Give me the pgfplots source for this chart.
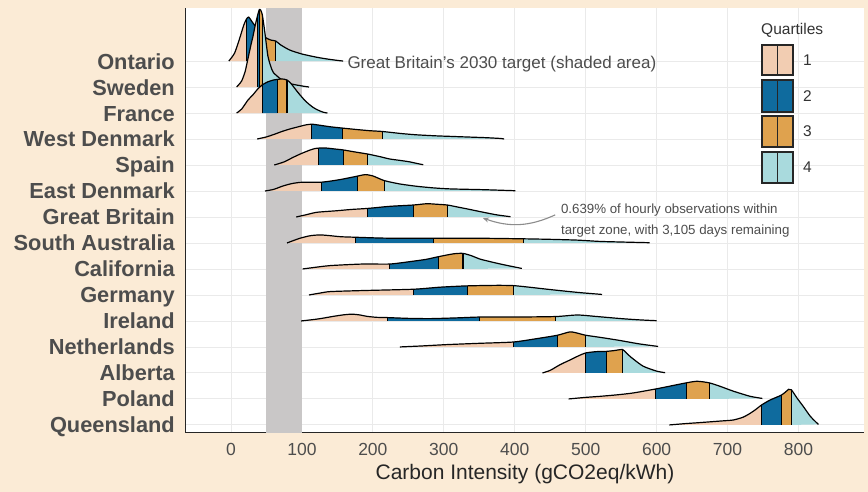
\documentclass[border=0pt]{standalone}
\usepackage{pgfplots}
\pgfplotsset{compat=1.18}
\usetikzlibrary{arrows.meta}
\usepackage{fontspec}
\setmainfont{Liberation Sans}

\definecolor{bgbeige}{HTML}{FBEBD6}
\definecolor{qone}{HTML}{F2CDB2}
\definecolor{qtwo}{HTML}{0F6B9E}
\definecolor{qthree}{HTML}{DFA24E}
\definecolor{qfour}{HTML}{A9DADD}
\definecolor{shade}{HTML}{C9C7C7}
\definecolor{gridgrey}{HTML}{EAEAEA}
\definecolor{txtgrey}{HTML}{4D4D4D}
\definecolor{arrowgrey}{HTML}{8C8C8C}

% density curves, y = baseline + height
\pgfplotstableread{
x y
-3 14
5 14.3
12 14.85
18 15.38
22 15.62
25 15.69
29 15.54
34 15.35
42 15.08
50 14.88
57 14.8
63 14.77
70 14.62
83 14.42
100 14.27
120 14.15
135 14.08
151 14.02
158 14
}\tOntario
\pgfplotstableread{
x y
8 13
15 13.23
20 13.6
24 14.1
28 14.6
31 14.95
34 15.35
37 15.7
40 15.98
42 15.95
44 15.8
46 15.45
48 15.05
52 14.2
56 13.8
60 13.55
72 13.27
85 13.12
100 13.04
110 13
}\tSweden
\pgfplotstableread{
x y
8 12
15 12.15
24 12.5
31 12.7
37 12.9
44 13.08
52 13.2
60 13.27
65 13.29
72 13.31
79 13.27
85 13.12
95 12.77
105 12.46
115 12.23
122 12.12
130 12.03
136 12
}\tFrance
\pgfplotstableread{
x y
37 11
50 11.08
60 11.17
73 11.3
85 11.4
95 11.47
105 11.54
114 11.57
125 11.53
140 11.47
157 11.42
175 11.37
195 11.32
213 11.29
240 11.21
262 11.16
290 11.12
310 11.1
340 11.07
360 11.05
380 11.02
385 11
}\tWDenmark
\pgfplotstableread{
x y
61 10
75 10.12
88 10.3
100 10.45
110 10.56
118 10.63
124 10.65
135 10.65
145 10.62
158 10.58
175 10.5
193 10.42
210 10.32
224 10.23
240 10.17
252 10.12
262 10.06
271 10.01
}\tSpain
\pgfplotstableread{
x y
48 9
60 9.06
73 9.19
85 9.28
97 9.33
110 9.34
128 9.34
145 9.4
158 9.46
178 9.57
189 9.63
200 9.58
216 9.4
238 9.27
262 9.18
285 9.12
309 9.08
356 9.05
401 9.01
}\tEDenmark
\pgfplotstableread{
x y
92 8
105 8.08
121 8.18
149 8.24
170 8.29
193 8.33
224 8.41
257 8.46
276 8.51
290 8.49
305 8.46
320 8.38
333 8.31
356 8.18
375 8.08
394 8.01
}\tGB
\pgfplotstableread{
x y
79 7
97 7.18
112 7.28
126 7.31
140 7.28
155 7.24
176 7.22
210 7.19
238 7.18
285 7.18
356 7.18
412 7.16
450 7.14
488 7.11
520 7.06
560 7.03
590 7.01
}\tSA
\pgfplotstableread{
x y
101 6
115 6.05
140 6.13
186 6.19
224 6.19
257 6.3
275 6.37
292 6.47
313 6.58
327 6.6
340 6.5
351 6.38
375 6.22
392 6.12
410 6.02
}\tCalifornia
\pgfplotstableread{
x y
110 5
125 5.07
140 5.13
186 5.17
257 5.22
295 5.3
333 5.35
375 5.37
398 5.36
420 5.3
446 5.22
470 5.15
492 5.09
523 5.02
}\tGermany
\pgfplotstableread{
x y
99 4
115 4.05
126 4.09
145 4.18
160 4.24
171 4.26
182 4.23
191 4.18
205 4.14
220 4.13
250 4.1
281 4.09
320 4.12
350 4.15
398 4.15
458 4.17
488 4.23
516 4.17
550 4.09
577 4.04
600 4.01
}\tIreland
\pgfplotstableread{
x y
238 3
270 3.04
304 3.09
350 3.14
398 3.19
431 3.32
460 3.45
478 3.58
490 3.52
500 3.45
525 3.35
548 3.25
575 3.12
602 3.02
}\tNetherlands
\pgfplotstableread{
x y
439 2
450 2.1
464 2.32
478 2.5
490 2.66
500 2.77
515 2.82
529 2.83
540 2.86
552 2.9
558 2.75
565 2.58
581 2.26
600 2.07
612 2.01
}\tAlberta
\pgfplotstableread{
x y
476 1
500 1.06
520 1.1
545 1.16
567 1.23
598 1.38
620 1.5
642 1.62
657 1.68
674 1.62
690 1.48
708 1.3
732 1.1
749 1.02
}\tPoland
\pgfplotstableread{
x y
618 0
640 0.05
661 0.09
690 0.15
708 0.19
722 0.3
732 0.45
740 0.6
748 0.77
760 0.96
776 1.15
783 1.3
786 1.37
790 1.35
798 1.03
807 0.7
817 0.32
828 0.02
}\tQueensland

\pgfplotsset{
  qfill/.style={draw=none, smooth, tension=0.4, forget plot},
}
% #1 table, #2 baseline, #3/#4 Q1 and its top, #5/#6 median, #7/#8 Q3
\newcommand\ridge[8]{%
  \addplot[qfill, fill=qone] table[restrict x to domain=-100:#3] {#1} -- (#3,#2) -- cycle;
  \addplot[qfill, fill=qtwo] table[restrict x to domain=#3:#5] {#1} -- (#5,#2) -- (#3,#2) -- cycle;
  \addplot[qfill, fill=qthree] table[restrict x to domain=#5:#7] {#1} -- (#7,#2) -- (#5,#2) -- cycle;
  \addplot[qfill, fill=qfour] table[restrict x to domain=#7:1000] {#1} -- (#7,#2) -- cycle;
  \addplot[black, line width=1.2bp, smooth, tension=0.4] table {#1};
  \addplot[black, line width=1.1bp] coordinates {(#3,#2) (#3,#4)};
  \addplot[black, line width=1.1bp] coordinates {(#5,#2) (#5,#6)};
  \addplot[black, line width=1.1bp] coordinates {(#7,#2) (#7,#8)};
}

\begin{document}
\begin{tikzpicture}[x=1bp, y=1bp]
\fill[bgbeige] (-186,-59) rectangle (682,433);
\begin{axis}[
  scale only axis, width=678bp, height=425bp,
  xmin=-63.4, xmax=892.3, ymin=-0.31, ymax=16.04,
  axis background/.style={fill=white},
  axis x line*=bottom, axis y line*=left,
  axis line style={draw=black!85, line width=1bp},
  xtick={0,100,...,800},
  ytick={0,...,14},
  yticklabels={Queensland,Poland,Alberta,Netherlands,Ireland,Germany,California,South Australia,Great Britain,East Denmark,Spain,West Denmark,France,Sweden,Ontario},
  major tick length=0pt,
  grid=major,
  major grid style={draw=gridgrey, line width=0.9bp},
  /pgf/number format/assume math mode=true,
  xticklabel style={font=\fontsize{17.5bp}{20bp}\selectfont, text=txtgrey, anchor=base, inner sep=0pt, yshift=-23bp},
  yticklabel style={font=\bfseries\fontsize{21.8bp}{24bp}\selectfont, text=txtgrey, anchor=base east, inner sep=0pt, xshift=-11bp, yshift=-8bp},
]
\addplot[fill=shade, draw=none] coordinates {(50,-0.31) (100,-0.31) (100,16.04) (50,16.04)} -- cycle;

\ridge{\tOntario}{14}{22}{15.62}{42}{15.08}{63}{14.77}
\ridge{\tSweden}{13}{37}{15.7}{40}{15.98}{44}{15.8}
\ridge{\tFrance}{12}{44}{13.08}{65}{13.29}{79}{13.27}
\ridge{\tWDenmark}{11}{114}{11.57}{157}{11.42}{213}{11.29}
\ridge{\tSpain}{10}{124}{10.65}{158}{10.58}{193}{10.42}
\ridge{\tEDenmark}{9}{128}{9.34}{178}{9.57}{216}{9.4}
\ridge{\tGB}{8}{193}{8.33}{257}{8.46}{305}{8.46}
\ridge{\tSA}{7}{176}{7.22}{285}{7.18}{412}{7.16}
\ridge{\tCalifornia}{6}{224}{6.19}{292}{6.47}{327}{6.6}
\ridge{\tGermany}{5}{257}{5.22}{333}{5.35}{398}{5.36}
\ridge{\tIreland}{4}{220}{4.13}{350}{4.15}{458}{4.17}
\ridge{\tNetherlands}{3}{398}{3.19}{460}{3.45}{500}{3.45}
\ridge{\tAlberta}{2}{500}{2.77}{529}{2.83}{552}{2.9}
\ridge{\tPoland}{1}{598}{1.38}{642}{1.62}{674}{1.62}
\ridge{\tQueensland}{0}{748}{0.77}{776}{1.15}{790}{1.35}

\node[anchor=base west, inner sep=0pt, text=txtgrey, font=\fontsize{17bp}{20bp}\selectfont]
  at (axis cs:164,13.72) {Great Britain's 2030 target (shaded area)};
\node[anchor=base west, inner sep=0pt, text=txtgrey, font=\fontsize{13.3bp}{16bp}\selectfont]
  at (axis cs:465,8.115) {0.639\% of hourly observations within};
\node[anchor=base west, inner sep=0pt, text=txtgrey, font=\fontsize{13.3bp}{16bp}\selectfont]
  at (axis cs:465,7.31) {target zone, with 3,105 days remaining};
\draw[-{Stealth[length=6bp,width=5bp]}, arrowgrey, line width=1.1bp]
  (axis cs:457,8.08) to[bend left=22] (axis cs:355,7.96);
\end{axis}

\node[anchor=base, inner sep=0pt, text=black!85, font=\fontsize{21bp}{24bp}\selectfont]
  at (339,-47) {Carbon Intensity (gCO2eq/kWh)};

% legend
\node[anchor=base west, inner sep=0pt, text=black!80, font=\fontsize{15.5bp}{18bp}\selectfont] at (575,398) {Quartiles};
\foreach \c/\t/\b/\lab in {qone/388/358/1, qtwo/353/321/2, qthree/317/286/3, qfour/281/250/4}{
  \filldraw[fill=\c, draw=black!85, line width=1.1bp] (576,\b) rectangle (607,\t);
  \draw[black!85, line width=1.1bp] (591.5,\b) -- (591.5,\t);
  \node[anchor=west, inner sep=0pt, text=black!80, font=\fontsize{15.5bp}{18bp}\selectfont] at (617,{(\b+\t)/2}) {\lab};
}

\pgfresetboundingbox
\path[use as bounding box] (-186,-59) rectangle (682,433);
\end{tikzpicture}
\end{document}
